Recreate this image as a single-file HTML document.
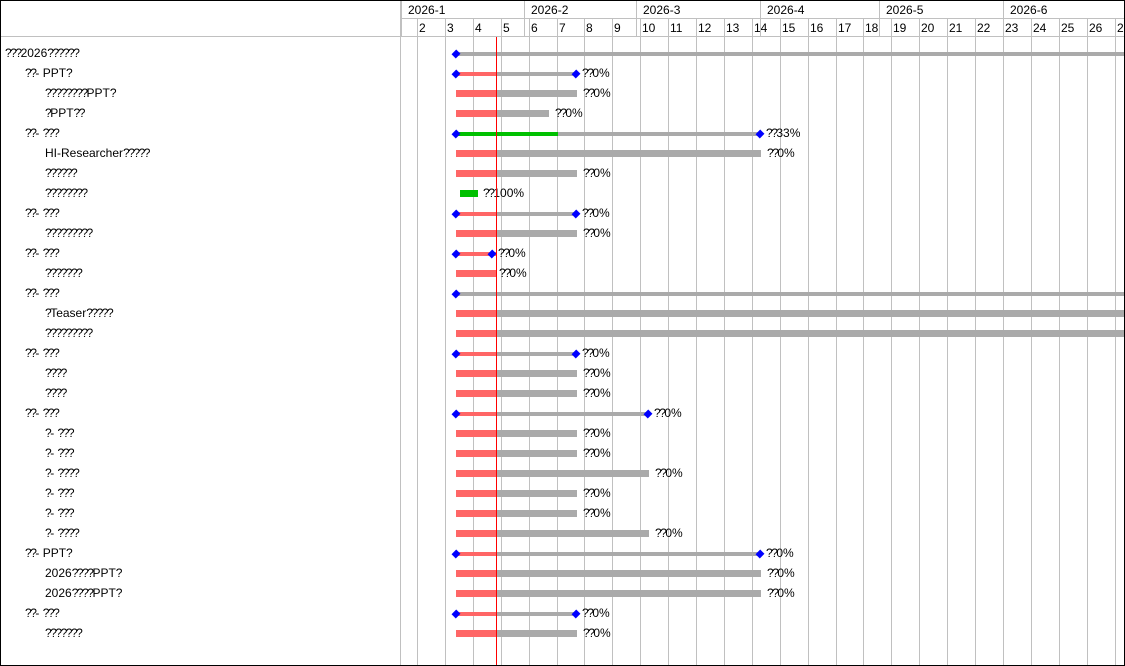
<!DOCTYPE html>
<html><head><meta charset="utf-8"><style>
body{margin:0;width:1125px;height:666px;overflow:hidden;background:#fff;font-family:"Liberation Sans","Noto Sans CJK SC",sans-serif;font-size:12px;color:#000}
#c{position:relative;width:1123px;height:664px;border:1px solid #000;overflow:hidden}
.a{position:absolute}
.t{position:absolute;white-space:nowrap;line-height:14px}
.q{letter-spacing:-1.5px}
</style></head><body><div id="c"></div>
<script>
var c=document.getElementById('c'),h='';
function r(x,y,w,hh,col){h+='<div class="a" style="left:'+x+'px;top:'+y+'px;width:'+w+'px;height:'+hh+'px;background:'+col+'"></div>';}
function t(x,y,s){s=s.replace(/\?/g,'<span class="q">?</span>');h+='<div class="t" style="left:'+x+'px;top:'+(y-8)+'px">'+s+'</div>';}
r(399,0,1,666,'#c0c0c0');
r(399,17,730,1,'#c0c0c0');
r(0,35,1125,1,'#c0c0c0');
var wd=['2','3','4','5','6','7','8','9','10','11','12','13','14','15','16','17','18','19','20','21','22','23','24','25','26','27'];
for(var k=0;k<wd.length;k++){var x=Math.round(416+27.9*k);r(x,17,1,650,'#c0c0c0');t(x+2,28,wd[k]);}
var ms=[[400,'2026-1'],[523,'2026-2'],[635,'2026-3'],[759,'2026-4'],[878,'2026-5'],[1002,'2026-6']];
ms.forEach(function(m){r(m[0],0,1,36,'#c0c0c0');t(m[0]+7,10,m[1]);});
var rows=[
['s',4,'???2026??????',1125,0,''],
['s',24,'??- PPT?',576,0,'??0%'],
['t',44,'????????PPT?',577,0,'??0%'],
['t',44,'?PPT??',549,0,'??0%'],
['s',24,'??- ???',760,557,'??33%'],
['t',44,'HI-Researcher?????',761,0,'??0%'],
['t',44,'??????',577,0,'??0%'],
['g',44,'????????',477,0,'??100%'],
['s',24,'??- ???',576,0,'??0%'],
['t',44,'?????????',577,0,'??0%'],
['s',24,'??- ???',492,0,'??0%'],
['t',44,'???????',493,0,'??0%'],
['s',24,'??- ???',1125,0,''],
['t',44,'?Teaser?????',1125,0,''],
['t',44,'?????????',1125,0,''],
['s',24,'??- ???',576,0,'??0%'],
['t',44,'????',577,0,'??0%'],
['t',44,'????',577,0,'??0%'],
['s',24,'??- ???',648,0,'??0%'],
['t',44,'?- ???',577,0,'??0%'],
['t',44,'?- ???',577,0,'??0%'],
['t',44,'?- ????',649,0,'??0%'],
['t',44,'?- ???',577,0,'??0%'],
['t',44,'?- ???',577,0,'??0%'],
['t',44,'?- ????',649,0,'??0%'],
['s',24,'??- PPT?',760,0,'??0%'],
['t',44,'2026????PPT?',761,0,'??0%'],
['t',44,'2026????PPT?',761,0,'??0%'],
['s',24,'??- ???',576,0,'??0%'],
['t',44,'???????',577,0,'??0%']];
var dia='';
rows.forEach(function(o,i){var y=53+20*i;t(o[1],y,o[2]);
 if(o[0]=='g'){r(459,y-4,18,7,'#00c000');t(482,y,o[5]);return;}
 if(o[0]=='t'){r(455,y-4,o[3]-456,7,'#aaa');r(455,y-4,41,7,'#ff6666');}
 else{r(455,y-2,o[3]-455,4,'#aaa');
  if(o[4])r(455,y-2,o[4]-455,4,'#00c000');else if(o[3]<1125)r(455,y-2,41,4,'#ff6666');
  dia+='<div class="a" style="left:452px;top:'+(y-3)+'px;width:6px;height:6px;background:#00f;transform:rotate(45deg) scaleY(1.1)"></div>';
  if(o[3]<1125)dia+='<div class="a" style="left:'+(o[3]-4)+'px;top:'+(y-3)+'px;width:6px;height:6px;background:#00f;transform:rotate(45deg) scaleY(1.1)"></div>';}
 if(o[5])t(o[3]+5,y,o[5]);
});
h+=dia;
r(495,36,1,630,'#ff0000');
c.innerHTML=h;
</script></body></html>
